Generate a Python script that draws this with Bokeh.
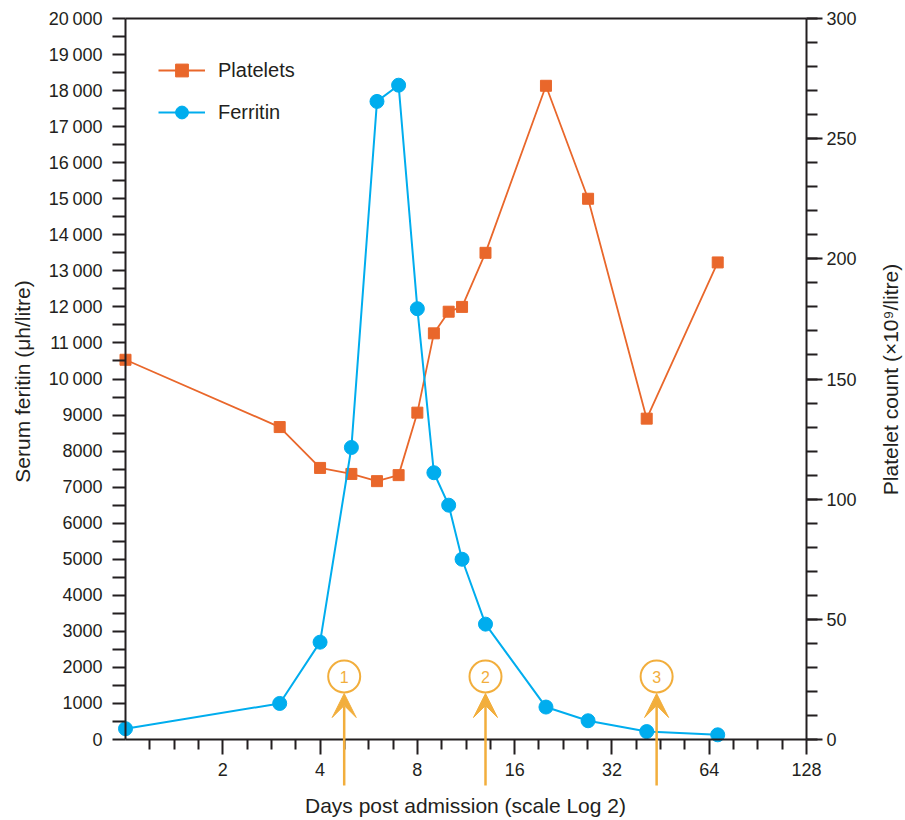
import math
from bokeh.plotting import figure
from bokeh.models import (Range1d, LinearAxis, FixedTicker, Label, Arrow, VeeHead,
                          Legend, LegendItem)
from bokeh.embed import file_html
from bokeh.resources import INLINE
from bokeh.core.properties import value

# ---------------- data ----------------
ferritin_days = [1, 3, 4, 5, 6, 7, 8, 9, 10, 11, 13, 20, 27, 41, 68]
ferritin = [300, 1000, 2700, 8100, 17700, 18150, 11950, 7400, 6500, 5000, 3200, 900, 520, 220, 130]
platelet_days = [1, 3, 4, 5, 6, 7, 8, 9, 10, 11, 13, 20, 27, 41, 68]
platelets = [158, 130, 113, 110.5, 107.5, 110, 136, 169, 178, 180, 202.5, 272, 225, 133.5, 198.5]
event_days = [4.75, 13, 44]
event_labels = ["1", "2", "3"]

x_ticks = [2, 4, 8, 16, 32, 64, 128]
x_tick_labels = ["2", "4", "8", "16", "32", "64", "128"]
ferritin_ticks = [0, 1000, 2000, 3000, 4000, 5000, 6000, 7000, 8000, 9000, 10000,
                  11000, 12000, 13000, 14000, 15000, 16000, 17000, 18000, 19000, 20000]
ferritin_tick_labels = ["0", "1000", "2000", "3000", "4000", "5000", "6000", "7000", "8000",
                        "9000", "10\u2009000", "11\u2009000", "12\u2009000", "13\u2009000",
                        "14\u2009000", "15\u2009000", "16\u2009000", "17\u2009000",
                        "18\u2009000", "19\u2009000", "20\u2009000"]
platelet_ticks = [0, 50, 100, 150, 200, 250, 300]
platelet_tick_labels = ["0", "50", "100", "150", "200", "250", "300"]

x_title = "Days post admission (scale Log 2)"
y_title = "Serum feritin (\u03bch/litre)"
y2_title = "Platelet count (\u00d710\u2079/litre)"
series_names = ["Platelets", "Ferritin"]

# ---------------- style / layout ----------------
FONT = "Liberation Sans"
ORANGE = "#E9672B"
BLUE = "#00ADEE"
ARROW = "#F2AE3C"
AXC = "#231f20"

W, H = 905, 820                 # the frame covers the whole canvas
SPINE_L, SPINE_R = 125, 806     # px of day 1 and day 128
ZERO_Y, TOP_Y = 739, 18         # px of ferritin 0 and 20000
PX_OCT = (SPINE_R - SPINE_L) / 7.0
PX_UNIT = (ZERO_Y - TOP_Y) / 20000.0
PLT_SCALE = 300 / 20000.0

def x_at(px):
    return 2 ** ((px - SPINE_L) / PX_OCT)

def y_at(py):
    return (ZERO_Y - py) / PX_UNIT

x_start, x_end = x_at(0), x_at(W)
y_start, y_end = y_at(H), y_at(0)

p = figure(width=W, height=H, x_axis_type="log",
           x_range=Range1d(x_start, x_end), y_range=Range1d(y_start, y_end),
           output_backend="svg", toolbar_location=None,
           min_border_left=0, min_border_right=0, min_border_top=0, min_border_bottom=0)
p.outline_line_color = None
p.xgrid.visible = False
p.ygrid.visible = False
p.background_fill_color = "white"
p.extra_y_ranges = {"plt": Range1d(y_start * PLT_SCALE, y_end * PLT_SCALE)}

def style_axis(ax, tick_out, minor_out, standoff):
    ax.axis_line_color = AXC
    ax.axis_line_width = 2
    ax.major_tick_line_color = AXC
    ax.major_tick_line_width = 2
    ax.minor_tick_line_color = AXC
    ax.minor_tick_line_width = 2
    ax.major_tick_in = 0
    ax.minor_tick_in = 0
    ax.major_tick_out = tick_out
    ax.minor_tick_out = minor_out
    ax.major_label_text_font = FONT
    ax.major_label_text_font_size = "18px"
    ax.major_label_text_color = AXC
    ax.major_label_standoff = standoff
    ax.axis_label = None

# bottom axis
xax = p.xaxis[0]
minor_x = [2 ** (k / 4) for k in range(1, 28) if k % 4 != 0]
xax.ticker = FixedTicker(ticks=x_ticks, minor_ticks=minor_x)
xax.major_label_overrides = {t: l for t, l in zip(x_ticks, x_tick_labels)}
xax.fixed_location = 0
xax.bounds = (1, 128)
style_axis(xax, 15, 10, 8)

# left axis
yax = p.yaxis[0]
yax.ticker = FixedTicker(ticks=ferritin_ticks,
                         minor_ticks=[t + 500 for t in ferritin_ticks[:-1]])
yax.major_label_overrides = {t: l for t, l in zip(ferritin_ticks, ferritin_tick_labels)}
yax.fixed_location = 1
yax.bounds = (0, 20000)
style_axis(yax, 13, 13, 10)

# right axis
rax = LinearAxis(y_range_name="plt", bounds=(0, 300),
                 ticker=FixedTicker(ticks=platelet_ticks,
                                    minor_ticks=list(range(0, 301, 10))))
rax.major_label_overrides = {t: l for t, l in zip(platelet_ticks, platelet_tick_labels)}
rax.fixed_location = 128
style_axis(rax, 16, 11, 4)
p.add_layout(rax, "right")

# top border of the box
p.segment(x0=[1], y0=[20000], x1=[128], y1=[20000], line_color=AXC, line_width=2)

# series
pl_line = p.line(platelet_days, platelets, y_range_name="plt", line_color=ORANGE, line_width=1.8)
pl_pts = p.scatter(platelet_days, platelets, y_range_name="plt", marker="square", size=11,
                   fill_color=ORANGE, line_color=ORANGE)
fe_line = p.line(ferritin_days, ferritin, line_color=BLUE, line_width=2)
fe_pts = p.scatter(ferritin_days, ferritin, marker="circle", size=14,
                   fill_color=BLUE, line_color=BLUE)

# event markers (arrows with numbered circles)
for d in event_days:
    p.add_layout(Arrow(end=VeeHead(size=24, fill_color=ARROW, line_color=ARROW, line_width=1),
                       x_start=d, y_start=y_at(785), x_end=d, y_end=y_at(693),
                       line_color=ARROW, line_width=2.5))
circ_y = [y_at(676)] * len(event_days)
p.scatter(event_days, circ_y, marker="circle", size=32, fill_color="white",
          line_color=ARROW, line_width=2)
p.text(event_days, circ_y, text=event_labels, text_align="center", text_baseline="middle",
       text_color=ARROW, text_font_size="16px", text_font=value(FONT))

# titles
TITLE_SIZE = "21px"
p.add_layout(Label(x=x_at(465), y=y_at(805), text=x_title, text_align="center",
                   text_baseline="middle", text_font=FONT, text_font_size=TITLE_SIZE,
                   text_color=AXC))
p.add_layout(Label(x=x_at(22), y=y_at(381), text=y_title, text_align="center",
                   text_baseline="middle", angle=math.pi / 2, text_font=FONT,
                   text_font_size=TITLE_SIZE, text_color=AXC))
p.add_layout(Label(x=x_at(890), y=y_at(379), text=y2_title, text_align="center",
                   text_baseline="middle", angle=math.pi / 2, text_font=FONT,
                   text_font_size=TITLE_SIZE, text_color=AXC))

# legend
legend = Legend(items=[LegendItem(label=series_names[0], renderers=[pl_line, pl_pts]),
                       LegendItem(label=series_names[1], renderers=[fe_line, fe_pts])],
                location=(158, H - 128), orientation="vertical",
                glyph_width=47, glyph_height=32, label_height=32, spacing=10,
                label_standoff=13, padding=0, margin=0,
                label_text_font=FONT, label_text_font_size="20px", label_text_color=AXC,
                background_fill_alpha=0, border_line_alpha=0)
p.add_layout(legend)

open("out.html", "w").write(file_html(p, INLINE))
